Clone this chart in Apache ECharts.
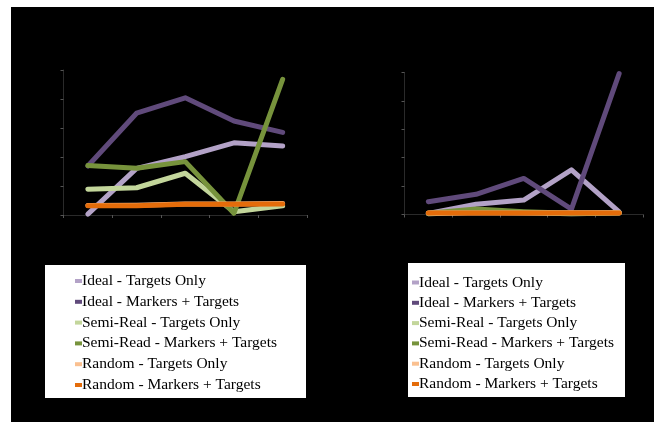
<!DOCTYPE html>
<html>
<head>
<meta charset="utf-8">
<script src="https://cdn.jsdelivr.net/npm/echarts@6/dist/echarts.min.js"></script>
<style>
  html, body { margin: 0; padding: 0; background: #ffffff; }
  #chart { width: 654px; height: 422px; }
</style>
</head>
<body>
<div id="chart"></div>
<script>
// Five sessions per condition
const categories = ['1', '2', '3', '4', '5'];

const seriesNames = [
  'Ideal - Targets Only',
  'Ideal - Markers + Targets',
  'Semi-Real - Targets Only',
  'Semi-Read - Markers + Targets',
  'Random - Targets Only',
  'Random - Markers + Targets'
];

// Left panel
const leftIdealTargets   = [0.03, 1.61, 2.01, 2.49, 2.38];
const leftIdealMarkers   = [1.69, 3.51, 4.04, 3.24, 2.85];
const leftSemiTargets    = [0.89, 0.94, 1.44, 0.11, 0.32];
const leftSemiMarkers    = [1.71, 1.61, 1.84, 0.06, 4.68];
const leftRandomTargets  = [0.33, 0.34, 0.38, 0.38, 0.40];
const leftRandomMarkers  = [0.32, 0.32, 0.37, 0.37, 0.38];

// Right panel
const rightIdealTargets  = [0.04, 0.36, 0.51, 1.57, 0.09];
const rightIdealMarkers  = [0.45, 0.71, 1.27, 0.19, 4.96];
const rightSemiTargets   = [0.03, 0.08, 0.06, 0.03, 0.05];
const rightSemiMarkers   = [0.04, 0.19, 0.10, 0.04, 0.06];
const rightRandomTargets = [0.05, 0.05, 0.05, 0.06, 0.06];
const rightRandomMarkers = [0.05, 0.05, 0.05, 0.05, 0.05];

const colors = ['#b3a2c7', '#604a7b', '#c3d69b', '#77933c', '#fac090', '#e46c0a'];

const leftData  = [leftIdealTargets, leftIdealMarkers, leftSemiTargets, leftSemiMarkers, leftRandomTargets, leftRandomMarkers];
const rightData = [rightIdealTargets, rightIdealMarkers, rightSemiTargets, rightSemiMarkers, rightRandomTargets, rightRandomMarkers];

const axisCommonX = {
  type: 'category',
  data: categories,
  boundaryGap: true,
  axisLine: { lineStyle: { color: '#2a2a2a', width: 1 } },
  axisTick: { show: true, length: 3, lineStyle: { color: '#555555' } },
  axisLabel: { show: false },
  splitLine: { show: false }
};
const axisCommonY = {
  type: 'value',
  min: 0,
  max: 5,
  interval: 1,
  axisLine: { show: true, lineStyle: { color: '#2a2a2a', width: 1 } },
  axisTick: { show: true, length: 3, lineStyle: { color: '#555555' } },
  axisLabel: { show: false },
  splitLine: { show: false }
};

function makeSeries(data, idx) {
  return data.map((vals, i) => ({
    name: seriesNames[i],
    type: 'line',
    xAxisIndex: idx,
    yAxisIndex: idx,
    data: vals,
    symbol: 'none',
    color: colors[i],
    lineStyle: { width: 5, color: colors[i], cap: 'round', join: 'round' },
    animation: false
  }));
}

const legendText = {
  fontFamily: 'Liberation Serif',
  fontSize: 15.5,
  color: '#000000',
  lineHeight: 16,
  padding: [0, 0, 0, -5]
};

const chart = echarts.init(document.getElementById('chart'), null, { renderer: 'canvas' });
chart.setOption({
  backgroundColor: '#ffffff',
  animation: false,
  graphic: [
    { type: 'rect', z: -10, silent: true, shape: { x: 11, y: 7, width: 643, height: 415 }, style: { fill: '#000000' } },
    { type: 'rect', z: -5, silent: true, shape: { x: 45, y: 265, width: 261, height: 133 }, style: { fill: '#ffffff' } },
    { type: 'rect', z: -5, silent: true, shape: { x: 408, y: 263, width: 217, height: 134 }, style: { fill: '#ffffff' } }
  ],
  grid: [
    { left: 63.5, right: 347, top: 70, bottom: 207 },
    { left: 404.5, right: 11, top: 72.5, bottom: 207.5 }
  ],
  xAxis: [
    Object.assign({ gridIndex: 0 }, axisCommonX),
    Object.assign({ gridIndex: 1 }, axisCommonX)
  ],
  yAxis: [
    Object.assign({ gridIndex: 0 }, axisCommonY),
    Object.assign({ gridIndex: 1 }, axisCommonY)
  ],
  legend: [
    {
      data: seriesNames,
      orient: 'vertical',
      left: 75,
      top: 273,
      padding: 0,
      itemWidth: 7,
      itemHeight: 4,
      itemGap: 4.8,
      icon: 'rect',
      textStyle: legendText,
      selectedMode: false
    },
    {
      data: seriesNames,
      orient: 'vertical',
      left: 412,
      top: 274.5,
      padding: 0,
      itemWidth: 7,
      itemHeight: 4,
      itemGap: 4.3,
      icon: 'rect',
      textStyle: legendText,
      selectedMode: false
    }
  ],
  series: makeSeries(leftData, 0).concat(makeSeries(rightData, 1))
});
</script>
</body>
</html>
